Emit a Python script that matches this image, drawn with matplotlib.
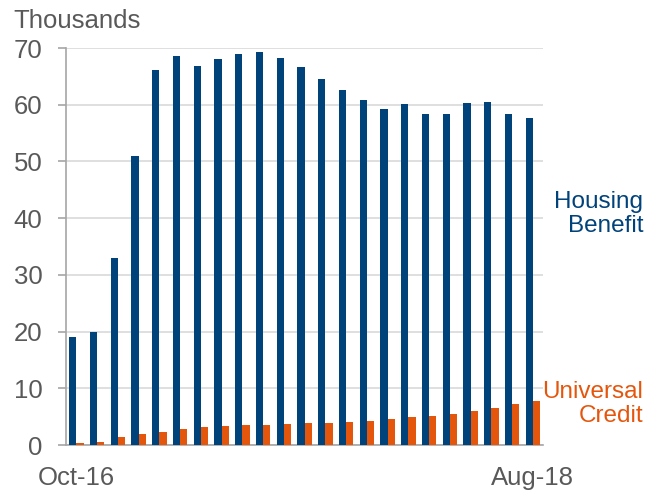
import matplotlib
matplotlib.use("Agg")
import matplotlib.pyplot as plt
import numpy as np

months = ["Oct-16", "Nov-16", "Dec-16", "Jan-17", "Feb-17", "Mar-17", "Apr-17", "May-17",
          "Jun-17", "Jul-17", "Aug-17", "Sep-17", "Oct-17", "Nov-17", "Dec-17", "Jan-18",
          "Feb-18", "Mar-18", "Apr-18", "May-18", "Jun-18", "Jul-18", "Aug-18"]
housing_benefit = [19.0, 20.0, 32.9, 51.0, 66.1, 68.6, 66.9, 68.1, 68.9, 69.3, 68.3, 66.7,
                   64.5, 62.6, 60.8, 59.3, 60.1, 58.4, 58.4, 60.3, 60.5, 58.4, 57.7]
universal_credit = [0.4, 0.6, 1.4, 2.0, 2.35, 2.75, 3.2, 3.35, 3.45, 3.6, 3.7, 3.8,
                    3.9, 4.0, 4.2, 4.5, 4.9, 5.1, 5.4, 6.0, 6.5, 7.2, 7.8]
shown_ticks = ["Oct-16", "Aug-18"]

blue = "#00427A"
orange = "#E5560D"
grey_text = "#595959"

plt.rcParams['font.family'] = ['Liberation Sans', 'DejaVu Sans']

fig = plt.figure(figsize=6.49 * np.array([1, 490 / 649]), dpi=100)
ax = fig.add_axes([66 / 649, 1 - 445 / 490, (543.3 - 66) / 649, (445 - 48) / 490])

x = np.arange(len(months))
w = 0.35
ax.bar(x - w / 2, housing_benefit, width=w, color=blue, zorder=3)
ax.bar(x + w / 2, universal_credit, width=w, color=orange, zorder=3)

ax.set_xlim(-0.5, len(months) - 0.5)
ax.set_ylim(0, 70)
ax.set_yticks(np.arange(0, 71, 10))
ax.yaxis.grid(True, color="#D9D9D9", linewidth=1.2, zorder=0)
ax.set_axisbelow(True)

tick_pos = [months.index(m) for m in shown_ticks]
ax.set_xticks(tick_pos)
ax.set_xticklabels(shown_ticks)

for s in ["top", "right"]:
    ax.spines[s].set_visible(False)
for s in ["left", "bottom"]:
    ax.spines[s].set_color("#A6A6A6")
    ax.spines[s].set_linewidth(1.2)

ax.tick_params(axis="y", length=6, width=1.2, color="#A6A6A6", pad=11,
               labelsize=18.5, labelcolor=grey_text)
ax.tick_params(axis="x", length=0, pad=15, labelsize=18.5, labelcolor=grey_text)

fig.text(13 / 649, 1 - 28 / 490, "Thousands", fontsize=18.5, color=grey_text,
         ha="left", va="baseline")

fig.text(643 / 649, 1 - 214 / 490, "Housing\nBenefit", fontsize=17.5, color=blue,
         ha="right", va="center", linespacing=1.12, multialignment="right")
fig.text(643 / 649, 1 - 404 / 490, "Universal\nCredit", fontsize=17.5, color=orange,
         ha="right", va="center", linespacing=1.12, multialignment="right")

fig.savefig("out.png", dpi=100)
